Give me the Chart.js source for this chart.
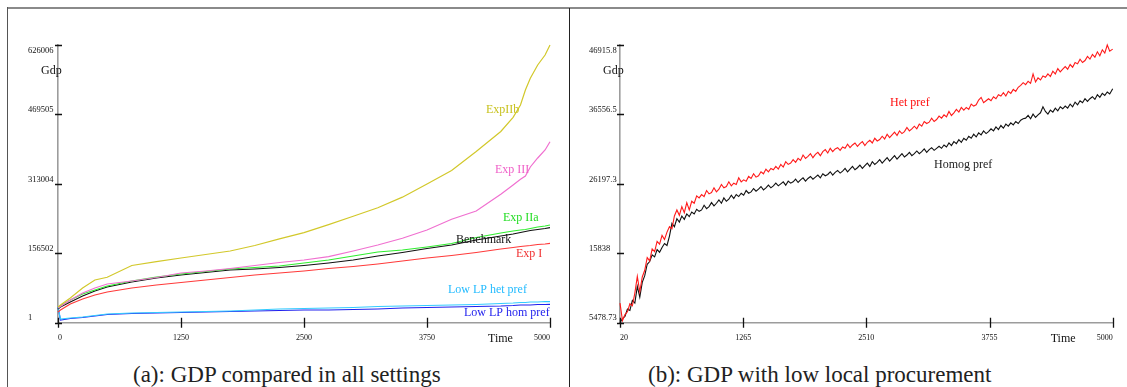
<!DOCTYPE html>
<html lang="en">
<head>
<meta charset="UTF-8" />
<title>GDP comparison</title>
<style>
  body {
    margin: 0;
    width: 1127px; height: 387px;
    overflow: hidden;
    position: relative;
    background: #fff;
    font-family: 'Liberation Serif', 'Times New Roman', serif;
  }
  .rule-top { position: absolute; left: 7px; top: 7px; width: 1120px; border-top: 2px solid #8a8a8a; }
  .rule-left { position: absolute; left: 7px; top: 7px; height: 380px; border-left: 1px solid #555; }
  .rule-mid { position: absolute; left: 569px; top: 8px; height: 379px; border-left: 1px solid #222; }
  .panel { position: absolute; top: 9px; height: 340px; }
  #panelA { left: 8px; width: 560px; }
  #panelB { left: 570px; width: 557px; }
  .caption {
    position: absolute; top: 363px;
    font-size: 23px; line-height: 23px;
    color: #222; white-space: nowrap;
  }
</style>
</head>
<body>

<div class="rule-top"></div>
<div class="rule-left"></div>
<div class="rule-mid"></div>

<div class="panel" id="panelA"><canvas id="chartA"></canvas></div>
<div class="panel" id="panelB"><canvas id="chartB"></canvas></div>

<div class="caption" style="left:133px">(a): GDP compared in all settings</div>
<div class="caption" style="left:648px">(b): GDP with low local procurement</div>

<script src="https://cdn.jsdelivr.net/npm/chart.js"></script>
<script>
  // (a) GDP in all settings
  const timeA = [0, 25, 125, 250, 375, 500, 750, 1000, 1250, 1500, 1750, 2000, 2250, 2500,
    2750, 3000, 3250, 3500, 3750, 4000, 4250, 4500, 4625, 4700, 4750, 4800, 4875, 4950, 5000];

  const expIIb = [35400, 39900, 55700, 78200, 96300, 102500, 129000, 137500, 145900, 153700,
    161600, 174000, 189000, 203000, 221000, 240000, 259000, 283000, 312700, 343000,
    386000, 431000, 463000, 490700, 524600, 550900, 580900, 603400, 626006];
  const expIII = [33100, 36500, 51200, 67000, 78200, 87200, 94000, 101900, 112000, 116500,
    122200, 128900, 135700, 141300, 148800, 161600, 175100, 190300, 209000, 233100,
    251800, 289400, 310400, 323300, 330700, 351000, 371300, 389300, 408000];
  const expIIa = [33100, 37600, 51200, 64700, 73700, 82700, 94000, 103000, 109800, 115400,
    121100, 124400, 127800, 134600, 141300, 150400, 159400, 163900, 170600, 178500,
    192100, 202200, 206700, 209000, 210100, 212300, 215700, 218000, 220200];
  const benchmark = [30900, 35400, 46700, 60200, 71500, 80500, 91700, 100800, 107500, 113200,
    118800, 121100, 124400, 128900, 134600, 141300, 150400, 158300, 167300, 175200,
    186400, 195400, 200000, 203300, 205600, 207800, 210100, 212300, 214200];
  const expI = [24100, 28600, 42200, 53400, 62400, 69200, 78200, 85000, 90600, 96300,
    101900, 107500, 112000, 116500, 122200, 126700, 132300, 139100, 145900, 151500,
    158300, 166100, 169500, 171800, 172900, 174000, 176300, 177400, 179000];
  const lowLpHet = [35400, 8300, 10600, 12800, 16200, 19600, 21900, 23000, 24100, 25200,
    26400, 28600, 30900, 32000, 33100, 34300, 36500, 37600, 38800, 39900,
    41000, 43300, 44400, 45500, 45500, 46700, 46700, 47800, 47300];
  const lowLpHom = [35400, 6100, 9500, 11700, 15100, 18500, 20700, 21900, 23000, 24100,
    25200, 26400, 27500, 28600, 28600, 29800, 30900, 33100, 34300, 35400,
    36500, 37600, 38800, 39900, 39900, 39900, 41000, 41000, 41500];

  const yTicksA = [1, 156502, 313004, 469505, 626006];
  const yLabelsA = ['1', '156502', '313004', '469505', '626006'];
  const xTicksA = [0, 1250, 2500, 3750, 5000];

  // (b) GDP with low local procurement, one value every 25 periods
  const timeB = [20, 45, 70, 95, 120, 145, 170, 195, 220, 245,
    270, 295, 320, 345, 370, 395, 420, 445, 470, 495,
    520, 545, 570, 595, 620, 645, 670, 695, 720, 745,
    770, 795, 820, 845, 870, 895, 920, 945, 970, 995,
    1020, 1045, 1070, 1095, 1120, 1145, 1170, 1195, 1220, 1245,
    1270, 1295, 1320, 1345, 1370, 1395, 1420, 1445, 1470, 1495,
    1520, 1545, 1570, 1595, 1620, 1645, 1670, 1695, 1720, 1745,
    1770, 1795, 1820, 1845, 1870, 1895, 1920, 1945, 1970, 1995,
    2020, 2045, 2070, 2095, 2120, 2145, 2170, 2195, 2220, 2245,
    2270, 2295, 2320, 2345, 2370, 2395, 2420, 2445, 2470, 2495,
    2520, 2545, 2570, 2595, 2620, 2645, 2670, 2695, 2720, 2745,
    2770, 2795, 2820, 2845, 2870, 2895, 2920, 2945, 2970, 2995,
    3020, 3045, 3070, 3095, 3120, 3145, 3170, 3195, 3220, 3245,
    3270, 3295, 3320, 3345, 3370, 3395, 3420, 3445, 3470, 3495,
    3520, 3545, 3570, 3595, 3620, 3645, 3670, 3695, 3720, 3745,
    3770, 3795, 3820, 3845, 3870, 3895, 3920, 3945, 3970, 3995,
    4020, 4045, 4070, 4095, 4120, 4145, 4170, 4195, 4220, 4245,
    4270, 4295, 4320, 4345, 4370, 4395, 4420, 4445, 4470, 4495,
    4520, 4545, 4570, 4595, 4620, 4645, 4670, 4695, 4720, 4745,
    4770, 4795, 4820, 4845, 4870, 4895, 4920, 4945, 4970, 5000];

  const hetPref = [8400, 5800, 6700, 7100, 8300, 8000, 9900, 12400, 10100, 12300,
    13300, 15200, 14700, 16500, 16100, 17600, 17200, 18500, 17900, 19000,
    19800, 19500, 21400, 22300, 21500, 22800, 21900, 23400, 22300, 23600,
    23300, 24400, 24100, 24600, 24300, 25200, 24700, 24900, 25600, 25000,
    25400, 26100, 25600, 25800, 26500, 25900, 26300, 26100, 27100, 26500,
    26800, 26600, 27300, 27000, 27700, 27200, 27400, 28000, 27700, 28400,
    28000, 28500, 28300, 28800, 28400, 29100, 28700, 29500, 29100, 29300,
    29800, 29400, 30000, 29700, 30500, 30000, 30300, 30700, 30100, 30600,
    30900, 30400, 31000, 31300, 30800, 31500, 31000, 31400, 31600, 31200,
    31700, 31500, 32100, 31600, 32000, 32300, 31800, 32200, 32500, 31900,
    32400, 32700, 32300, 33000, 32600, 32800, 33300, 32900, 33600, 33100,
    33500, 33900, 33400, 34100, 33700, 34000, 34600, 34100, 34400, 34800,
    34400, 35100, 34800, 35500, 35200, 35400, 36000, 35500, 35800, 36300,
    36000, 36500, 36200, 37000, 36400, 36800, 37300, 36900, 37600, 37200,
    37600, 37300, 38100, 37800, 38000, 38700, 39100, 38300, 38600, 38900,
    38600, 39200, 38900, 39500, 39300, 39800, 39300, 40000, 39700, 40300,
    40000, 40600, 40900, 41300, 41000, 41500, 41200, 42600, 41400, 42000,
    41700, 42300, 42100, 42600, 42200, 43000, 42600, 43400, 42900, 43300,
    43700, 43300, 44000, 43600, 44300, 44100, 44800, 44300, 44600, 45200,
    44800, 45500, 45100, 45900, 45300, 46200, 45700, 46915.8, 46000, 46300];
  const homogPref = [5478.73, 6100, 6400, 7500, 7300, 8800, 8400, 10900, 9300, 11500,
    12500, 14200, 14600, 15600, 15300, 16400, 16000, 16700, 17300, 17000,
    18400, 20300, 19800, 21000, 20500, 21400, 20900, 21700, 21300, 22000,
    21700, 22400, 22100, 22300, 23000, 22500, 22800, 23400, 22900, 23300,
    23800, 23300, 24100, 23600, 23900, 24500, 24000, 24600, 24300, 24800,
    24500, 25200, 24800, 25000, 25500, 25100, 25400, 25800, 25300, 25600,
    26000, 25600, 25900, 26300, 25900, 26200, 26500, 26000, 26600, 26300,
    26500, 26900, 26400, 26800, 27100, 26600, 27000, 27300, 26900, 27200,
    27500, 27100, 27700, 27400, 27600, 28000, 27500, 27900, 28200, 27800,
    28100, 28500, 28000, 28400, 28800, 28300, 28600, 29000, 28500, 28900,
    29300, 28800, 29500, 29100, 29400, 29800, 29300, 29700, 30100, 29600,
    30000, 30400, 29900, 30300, 30700, 30200, 30500, 30900, 30400, 30700,
    31100, 30700, 31000, 31400, 30900, 31300, 31600, 31200, 31500, 31800,
    31500, 32000, 31700, 32300, 31900, 32500, 32200, 32800, 32400, 33000,
    32700, 33300, 33000, 33600, 33200, 33800, 33500, 34100, 33700, 34000,
    34400, 34100, 34700, 34300, 34900, 34500, 35100, 34800, 35300, 35000,
    35500, 35200, 35700, 35900, 36000, 36400, 35900, 36600, 36100, 36500,
    36800, 37700, 37000, 36600, 37200, 36900, 37500, 37100, 37700, 37400,
    37800, 37500, 38100, 37700, 38400, 38000, 38600, 38300, 38900, 38500,
    38900, 39200, 38800, 39500, 39100, 39700, 39400, 39900, 39600, 40400];

  const yTicksB = [5478.73, 15838, 26197.3, 36556.5, 46915.8];
  const yLabelsB = ['5478.73', '15838', '26197.3', '36556.5', '46915.8'];
  const xTicksB = [20, 1265, 2510, 3755, 5000];

  const serif = "'Liberation Serif', 'Times New Roman', serif";

  // curve names written next to the lines, anchored in data units
  const namesA = [
    { text: 'ExpIIb', t: 4350, v: 479500, color: '#c8c21e' },
    { text: 'Exp III', t: 4441, v: 344200, color: '#f060c8' },
    { text: 'Exp IIa', t: 4522, v: 236000, color: '#22dd22' },
    { text: 'Benchmark', t: 4045, v: 186400, color: '#111' },
    { text: 'Exp I', t: 4654, v: 154900, color: '#f03030' },
    { text: 'Low LP het pref', t: 3963, v: 73700, color: '#22bbff' },
    { text: 'Low LP hom pref', t: 4126, v: 21900, color: '#2222ee' }
  ];
  const namesB = [
    { text: 'Het pref', t: 2749, v: 38300, color: '#ff1010' },
    { text: 'Homog pref', t: 3194, v: 29000, color: '#222' }
  ];

  // ticks crossing both axes, axis names and curve names
  const decor = {
    id: 'decor',
    afterDraw(chart) {
      const { ctx, chartArea: a, scales: { x, y } } = chart;
      ctx.save();
      ctx.strokeStyle = '#111';
      ctx.lineWidth = 1.3;
      ctx.beginPath();
      y.ticks.forEach((tk, i) => {
        const py = Math.round(y.getPixelForTick(i)) + 0.5;
        ctx.moveTo(a.left - 3, py); ctx.lineTo(a.left + 4, py);
      });
      x.ticks.forEach((tk, i) => {
        const px = Math.round(x.getPixelForTick(i)) + 0.5;
        ctx.moveTo(px, a.bottom - 5); ctx.lineTo(px, a.bottom + 5);
      });
      ctx.stroke();

      ctx.font = '12px ' + serif;
      ctx.textBaseline = 'middle';
      ctx.textAlign = 'left';
      ctx.fillStyle = '#111';
      ctx.fillText('Gdp', a.left - 17, a.top + 26);
      ctx.fillText('Time', a.right - 62, a.bottom + 16);

      chart.options.plugins.decor.names.forEach(n => {
        ctx.fillStyle = n.color;
        ctx.fillText(n.text, x.getPixelForValue(n.t), y.getPixelForValue(n.v));
      });
      ctx.restore();
    }
  };

  function drawPanel(id, times, series, yTicks, yLabels, xTicks, names, pad) {
    return new Chart(document.getElementById(id), {
      type: 'line',
      data: {
        datasets: series.map(s => ({
          label: s.label,
          data: times.map((t, i) => ({ x: t, y: s.values[i] })),
          borderColor: s.color,
          borderWidth: pad.line,
          pointRadius: 0,
          tension: 0,
          fill: false
        }))
      },
      options: {
        responsive: true,
        maintainAspectRatio: false,
        animation: false,
        clip: false,
        layout: { padding: { left: pad.left, right: pad.right, top: 36, bottom: 0 } },
        plugins: {
          legend: { display: false },
          tooltip: { enabled: false },
          decor: { names }
        },
        scales: {
          x: {
            type: 'linear',
            min: xTicks[0],
            max: xTicks[xTicks.length - 1],
            afterBuildTicks: s => { s.ticks = xTicks.map(v => ({ value: v })); },
            afterFit: s => { s.height = 26.3; },
            grid: { drawOnChartArea: false, drawTicks: false },
            border: { color: '#9c9c9c', width: 1.6 },
            ticks: {
              align: 'inner', padding: 10, maxRotation: 0, autoSkip: false,
              color: '#111', font: { family: serif, size: 8 },
              callback: v => String(v)
            }
          },
          y: {
            min: yTicks[0],
            max: yTicks[yTicks.length - 1],
            afterBuildTicks: s => { s.ticks = yTicks.map(v => ({ value: v })); },
            afterFit: s => { s.width = pad.axis; },
            grid: { drawOnChartArea: false, drawTicks: false },
            border: { color: '#9c9c9c', width: 1.6 },
            ticks: {
              crossAlign: 'far', labelOffset: -4.5, autoSkip: false,
              color: '#111', font: { family: serif, size: 8.5 },
              // the top label sits a little below its tick
              callback: (v, i, arr) => i === arr.length - 1 ? ['', '', yLabels[i]] : yLabels[i]
            }
          }
        }
      },
      plugins: [decor]
    });
  }

  drawPanel('chartA', timeA, [
    { label: 'ExpIIb', values: expIIb, color: '#d2c82a' },
    { label: 'Exp III', values: expIII, color: '#f070d0' },
    { label: 'Exp I', values: expI, color: '#ff3a3a' },
    { label: 'Exp IIa', values: expIIa, color: '#30ee30' },
    { label: 'Benchmark', values: benchmark, color: '#111' },
    { label: 'Low LP het pref', values: lowLpHet, color: '#33ccff' },
    { label: 'Low LP hom pref', values: lowLpHom, color: '#2020ee' }
  ], yTicksA, yLabelsA, xTicksA, namesA, { left: 20, right: 18, axis: 30, line: 1.2 });

  drawPanel('chartB', timeB, [
    { label: 'Het pref', values: hetPref, color: '#ff1a1a' },
    { label: 'Homog pref', values: homogPref, color: '#111' }
  ], yTicksB, yLabelsB, xTicksB, namesB, { left: 19, right: 14.3, axis: 31, line: 1.1 });
</script>
</body>
</html>
